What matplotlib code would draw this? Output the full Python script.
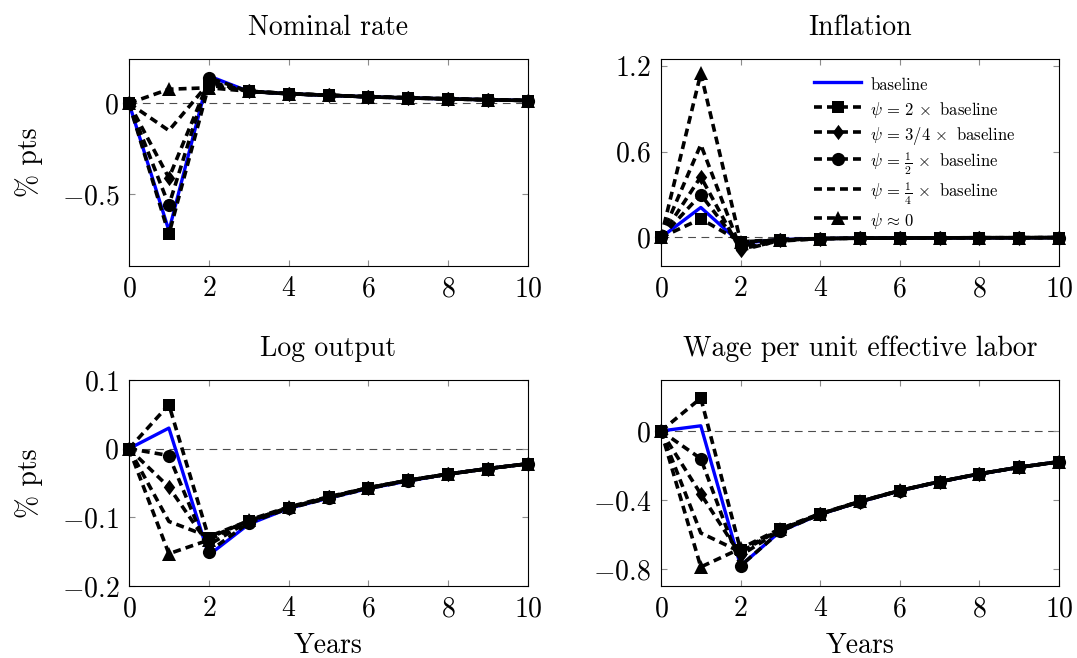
import matplotlib
matplotlib.use("Agg")
import matplotlib.pyplot as plt
from matplotlib.ticker import FuncFormatter

plt.rcParams['font.family'] = 'cmr10'
plt.rcParams['mathtext.fontset'] = 'cm'
plt.rcParams['axes.unicode_minus'] = False

years = list(range(11))

# Nominal rate
rate_base = [0, -0.70, 0.15, 0.065, 0.052, 0.043, 0.035, 0.029, 0.024, 0.019, 0.015]
rate_x2 = [0, -0.72, 0.10, 0.066, 0.053, 0.044, 0.036, 0.030, 0.024, 0.019, 0.015]
rate_x34 = [0, -0.41, 0.12, 0.065, 0.052, 0.043, 0.035, 0.029, 0.024, 0.019, 0.015]
rate_x12 = [0, -0.56, 0.14, 0.065, 0.052, 0.043, 0.035, 0.029, 0.024, 0.019, 0.015]
rate_x14 = [0, -0.15, 0.11, 0.066, 0.053, 0.044, 0.036, 0.030, 0.024, 0.019, 0.015]
rate_x0 = [0, 0.077, 0.085, 0.066, 0.053, 0.044, 0.036, 0.030, 0.024, 0.019, 0.015]

# Inflation
infl_base = [0, 0.21, -0.04, -0.015, -0.008, -0.005, -0.004, -0.003, -0.002, -0.002, -0.001]
infl_x2 = [0, 0.13, -0.03, -0.015, -0.008, -0.005, -0.004, -0.003, -0.002, -0.002, -0.001]
infl_x34 = [0, 0.425, -0.09, -0.02, -0.008, -0.005, -0.004, -0.003, -0.002, -0.002, -0.001]
infl_x12 = [0, 0.30, -0.06, -0.018, -0.008, -0.005, -0.004, -0.003, -0.002, -0.002, -0.001]
infl_x14 = [0, 0.65, -0.08, -0.025, -0.009, -0.005, -0.004, -0.003, -0.002, -0.002, -0.001]
infl_x0 = [0, 1.15, -0.03, -0.02, -0.008, -0.005, -0.004, -0.003, -0.002, -0.002, -0.001]

# Log output
out_base = [0, 0.03, -0.155, -0.11, -0.087, -0.072, -0.058, -0.047, -0.037, -0.029, -0.022]
out_x2 = [0, 0.064, -0.13, -0.105, -0.086, -0.071, -0.057, -0.046, -0.037, -0.029, -0.022]
out_x34 = [0, -0.056, -0.14, -0.106, -0.086, -0.071, -0.057, -0.046, -0.037, -0.029, -0.022]
out_x12 = [0, -0.01, -0.15, -0.108, -0.087, -0.072, -0.058, -0.047, -0.037, -0.029, -0.022]
out_x14 = [0, -0.106, -0.128, -0.105, -0.086, -0.071, -0.057, -0.046, -0.037, -0.029, -0.022]
out_x0 = [0, -0.153, -0.133, -0.104, -0.085, -0.070, -0.057, -0.046, -0.037, -0.029, -0.022]

# Wage per unit effective labor
wage_base = [0, 0.03, -0.78, -0.58, -0.482, -0.41, -0.346, -0.294, -0.249, -0.21, -0.178]
wage_x2 = [0, 0.19, -0.69, -0.57, -0.48, -0.408, -0.345, -0.293, -0.248, -0.21, -0.178]
wage_x34 = [0, -0.365, -0.72, -0.575, -0.481, -0.409, -0.345, -0.293, -0.248, -0.21, -0.178]
wage_x12 = [0, -0.16, -0.78, -0.58, -0.482, -0.41, -0.346, -0.294, -0.249, -0.21, -0.178]
wage_x14 = [0, -0.59, -0.70, -0.57, -0.48, -0.408, -0.345, -0.293, -0.248, -0.21, -0.178]
wage_x0 = [0, -0.787, -0.68, -0.565, -0.478, -0.407, -0.344, -0.293, -0.248, -0.21, -0.178]

labels = ['baseline',
          r'$\psi\,=\,2\,\times$ baseline',
          r'$\psi\,=\,3/4\,\times$ baseline',
          r'$\psi\,=\,\frac{1}{2}\,\times$ baseline',
          r'$\psi\,=\,\frac{1}{4}\,\times$ baseline',
          r'$\psi\,\approx\,0$']

titles = ['Nominal rate', 'Inflation', 'Log output', 'Wage per unit effective labor']
xticks = [0, 2, 4, 6, 8, 10]
yticks = [[-0.5, 0], [0, 0.6, 1.2], [-0.2, -0.1, 0, 0.1], [-0.8, -0.4, 0]]
ylims = [(-0.894, 0.243), (-0.20, 1.25), (-0.2, 0.1), (-0.897, 0.295)]

panels = [
    [rate_base, rate_x2, rate_x34, rate_x12, rate_x14, rate_x0],
    [infl_base, infl_x2, infl_x34, infl_x12, infl_x14, infl_x0],
    [out_base, out_x2, out_x34, out_x12, out_x14, out_x0],
    [wage_base, wage_x2, wage_x34, wage_x12, wage_x14, wage_x0],
]

# taller diamond like pgfplots' diamond*
diamond = [(0, 1), (0.75, 0), (0, -1), (-0.75, 0), (0, 1)]
markers = [None, ('s', 9), (diamond, 11), ('o', 9.5), (None, 0), ('^', 10.5)]
# squares end up on top, the way the marks stack
zorders = [2, 3.5, 3.3, 3.4, 3.1, 3.2]

W, H = 1077, 658
boxes = [(129, 59, 528, 266), (661, 59, 1059, 266),
         (129, 380, 528, 586), (661, 380, 1059, 586)]


def tick_fmt(v, pos):
    s = '%g' % v
    return '$' + s + '$'


fig = plt.figure(figsize=(W / 100, H / 100), dpi=100)
axes = []
for i, (x0, y0, x1, y1) in enumerate(boxes):
    ax = fig.add_axes([x0 / W, 1 - y1 / H, (x1 - x0) / W, (y1 - y0) / H])
    axes.append(ax)
    series = panels[i]

    ax.axhline(0, color='0.3', lw=0.8, dashes=(7, 5), zorder=1)

    ax.plot(years, series[0], color='#0000ff', lw=2.4, label=labels[0],
            zorder=zorders[0], clip_on=False)
    for j in range(1, 6):
        m, ms = markers[j]
        ax.plot(years, series[j], color='black', lw=2.6, dashes=(2.2, 1.4),
                marker=m, markersize=ms, markeredgewidth=0, label=labels[j],
                zorder=zorders[j], clip_on=False)

    ax.set_xlim(0, 10)
    ax.set_ylim(*ylims[i])
    ax.set_xticks(xticks)
    ax.set_yticks(yticks[i])
    ax.xaxis.set_major_formatter(FuncFormatter(tick_fmt))
    ax.yaxis.set_major_formatter(FuncFormatter(tick_fmt))
    ax.tick_params(direction='in', top=True, right=True, length=4.5,
                   width=0.8, color='0.55', labelsize=20, pad=7)
    for sp in ax.spines.values():
        sp.set_linewidth(0.8)
    ax.set_title(titles[i], fontsize=20, pad=17)

    if i % 2 == 0:
        ax.set_ylabel('% pts', fontsize=20)
        ax.yaxis.set_label_coords(-0.215, 0.5)
    if i >= 2:
        ax.set_xlabel('Years', fontsize=20, labelpad=8)

# tall handle boxes give every legend row the same height
leg = axes[1].legend(loc='upper left', bbox_to_anchor=(0.385, 0.928),
                     frameon=False, fontsize=12, handlelength=2.8,
                     handleheight=1.6, handletextpad=0.55,
                     labelspacing=0.22, borderaxespad=0, borderpad=0)

fig.savefig('out.png', dpi=100)
